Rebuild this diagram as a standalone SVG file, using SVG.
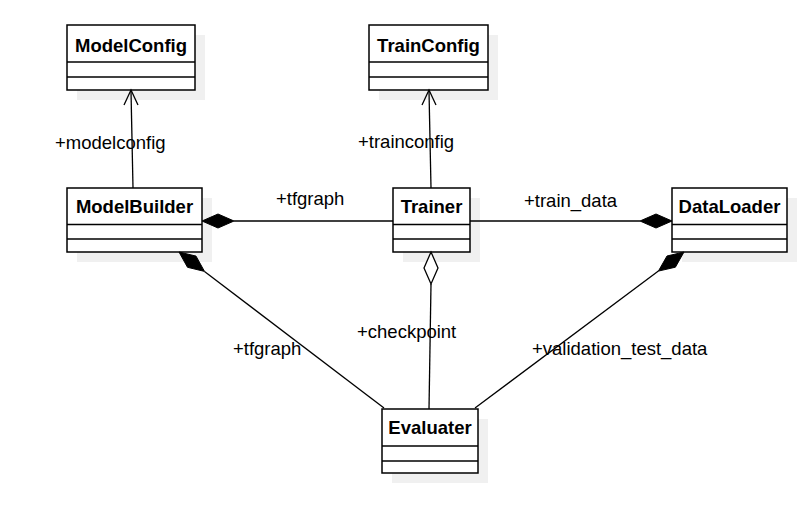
<svg xmlns="http://www.w3.org/2000/svg" width="806" height="520" viewBox="0 0 806 520">
<style>
.shadow{fill:#f0f0f0;stroke:none}
.box{fill:#ffffff;stroke:#000000;stroke-width:1.5}
.div{stroke:#000000;stroke-width:1.5}
.name{font-family:"Liberation Sans",Arial,sans-serif;font-size:18.5px;font-weight:bold;fill:#000000;text-anchor:middle}
.lbl{font-family:"Liberation Sans",Arial,sans-serif;font-size:18.5px;fill:#000000}
.ln{stroke:#000000;stroke-width:1.3;fill:none}
.fd{fill:#000000;stroke:#000000;stroke-width:1}
.hd{fill:#ffffff;stroke:#000000;stroke-width:1.3}
</style>
<rect width="806" height="520" fill="#ffffff"/>
<g id="ModelConfig">
  <rect class="shadow" x="77" y="35" width="128" height="65"/>
  <rect class="box" x="67" y="25" width="128" height="65"/>
  <line class="div" x1="67" y1="62" x2="195" y2="62"/>
  <line class="div" x1="67" y1="77" x2="195" y2="77"/>
  <text class="name" x="131" y="52">ModelConfig</text>
</g>
<g id="TrainConfig">
  <rect class="shadow" x="379" y="35" width="119" height="65"/>
  <rect class="box" x="369" y="25" width="119" height="65"/>
  <line class="div" x1="369" y1="62" x2="488" y2="62"/>
  <line class="div" x1="369" y1="77" x2="488" y2="77"/>
  <text class="name" x="428.5" y="52">TrainConfig</text>
</g>
<g id="ModelBuilder">
  <rect class="shadow" x="77" y="198" width="135" height="64"/>
  <rect class="box" x="67" y="188" width="135" height="64"/>
  <line class="div" x1="67" y1="224.5" x2="202" y2="224.5"/>
  <line class="div" x1="67" y1="239" x2="202" y2="239"/>
  <text class="name" x="134.5" y="213">ModelBuilder</text>
</g>
<g id="Trainer">
  <rect class="shadow" x="403" y="198" width="77" height="64"/>
  <rect class="box" x="393" y="188" width="77" height="64"/>
  <line class="div" x1="393" y1="224.5" x2="470" y2="224.5"/>
  <line class="div" x1="393" y1="239" x2="470" y2="239"/>
  <text class="name" x="431.5" y="213">Trainer</text>
</g>
<g id="DataLoader">
  <rect class="shadow" x="682" y="198" width="115" height="64"/>
  <rect class="box" x="672" y="188" width="115" height="64"/>
  <line class="div" x1="672" y1="224.5" x2="787" y2="224.5"/>
  <line class="div" x1="672" y1="239" x2="787" y2="239"/>
  <text class="name" x="729.5" y="213">DataLoader</text>
</g>
<g id="Evaluater">
  <rect class="shadow" x="392" y="419" width="96" height="64"/>
  <rect class="box" x="382" y="409" width="96" height="64"/>
  <line class="div" x1="382" y1="446" x2="478" y2="446"/>
  <line class="div" x1="382" y1="461" x2="478" y2="461"/>
  <text class="name" x="430" y="434">Evaluater</text>
</g>
<g id="connectors">
  <line class="ln" x1="133" y1="188" x2="131" y2="91"/>
  <path class="ln" d="M124,105 L131,90 L138,105"/>
  <line class="ln" x1="431" y1="188" x2="429" y2="91"/>
  <path class="ln" d="M422,105 L429,90 L436,105"/>
  <line class="ln" x1="234" y1="221" x2="393" y2="221"/>
  <path class="fd" d="M202,221 L218,214 L234,221 L218,228 Z"/>
  <line class="ln" x1="470" y1="221" x2="640" y2="221"/>
  <path class="fd" d="M672,221 L656,214 L640,221 L656,228 Z"/>
  <line class="ln" x1="204.5" y1="271.4" x2="384" y2="408"/>
  <path class="fd" d="M179,252 L187.5,267.3 L204.5,271.4 L196,256.1 Z"/>
  <line class="ln" x1="658.4" y1="271.1" x2="475" y2="408"/>
  <path class="fd" d="M684,252 L675.4,267.2 L658.4,271.1 L667,256 Z"/>
  <line class="ln" x1="431" y1="284" x2="429" y2="409"/>
  <path class="hd" d="M431,252 L438,268 L431,284 L424,268 Z"/>
  <text class="lbl" x="55" y="149">+modelconfig</text>
  <text class="lbl" x="358" y="148">+trainconfig</text>
  <text class="lbl" x="276" y="205">+tfgraph</text>
  <text class="lbl" x="524" y="207">+train_data</text>
  <text class="lbl" x="357" y="338">+checkpoint</text>
  <text class="lbl" x="233" y="355">+tfgraph</text>
  <text class="lbl" x="532" y="355">+validation_test_data</text>
</g>
</svg>
